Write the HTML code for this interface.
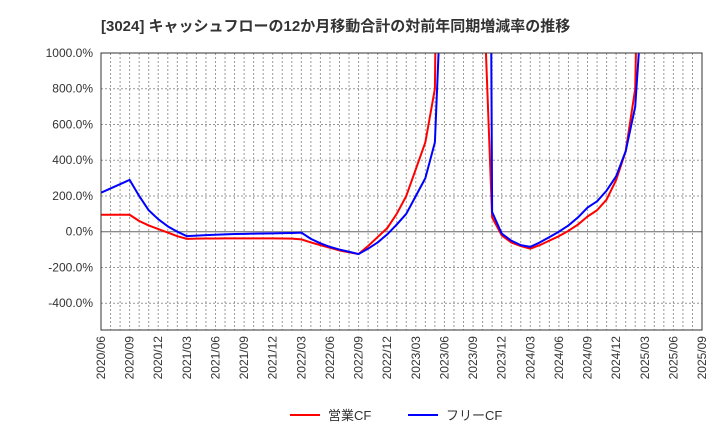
<!DOCTYPE html>
<html><head><meta charset="utf-8"><style>
body{margin:0;background:#fff;}
svg{display:block;font-family:"Liberation Sans","Noto Sans CJK JP",sans-serif;}
</style></head><body>
<svg id="c" width="720" height="440">
<text x="101" y="31" font-size="15" font-weight="bold" fill="#333">[3024]  キャッシュフローの12か月移動合計の対前年同期増減率の推移</text>
<defs><clipPath id="clip"><rect x="101" y="53" width="601" height="277"/></clipPath></defs>
<g id="grid"></g>
<g id="series" clip-path="url(#clip)"></g>
<rect x="101" y="53" width="601" height="277" fill="none" stroke="#333" stroke-width="1"/>
<g id="axes"></g>
<g>
<line x1="290" y1="415" x2="320" y2="415" stroke="#f00" stroke-width="2"/>
<text x="328" y="420" font-size="13" fill="#333">営業CF</text>
<line x1="408" y1="415" x2="438" y2="415" stroke="#00f" stroke-width="2"/>
<text x="446" y="420" font-size="13" fill="#333">フリーCF</text>
</g>
</svg>
<script>
const xTickLabels=["2020/06","2020/09","2020/12","2021/03","2021/06","2021/09","2021/12","2022/03","2022/06","2022/09","2022/12","2023/03","2023/06","2023/09","2023/12","2024/03","2024/06","2024/09","2024/12","2025/03","2025/06","2025/09"];
const yTicks=[-400,-200,0,200,400,600,800,1000];
// monthly values from 2020/06 (index 0)
const operatingCF=[95,95,95,95,60,35,15,-5,-25,-40,-39,-38,-38,-37,-37,-37,-37,-37,-37,-38,-39,-43,-60,-75,-90,-105,-115,-125,-80,-30,20,100,200,350,500,800,5000,null,null,null,1500,80,-20,-60,-80,-95,-75,-50,-25,5,40,85,120,180,290,450,800,3500,null,null,null,null,null,null];
const freeCF=[218,242,266,290,200,120,70,30,0,-25,-22,-19,-17,-15,-13,-12,-11,-10,-9,-8,-7,-5,-40,-65,-85,-100,-112,-125,-95,-60,-15,40,100,200,300,500,1800,null,null,null,10000,110,-10,-50,-75,-85,-60,-30,0,35,80,135,170,230,310,450,700,1500,null,null,null,null,null,null];
const X0=101,X1=702,Y0=330,Y1=53,NM=63,YMIN=-550,YMAX=1000;
const xs=i=>X0+(X1-X0)*i/NM;
const ys=v=>Y0-(Y0-Y1)*(v-YMIN)/(YMAX-YMIN);
const NS="http://www.w3.org/2000/svg";
const grid=document.getElementById('grid'),axes=document.getElementById('axes'),ser=document.getElementById('series');
function mk(tag,attrs,parent){const e=document.createElementNS(NS,tag);for(const k in attrs)e.setAttribute(k,attrs[k]);parent.appendChild(e);return e;}
for(let m=1;m<NM;m++){
  const l=mk('line',{x1:xs(m),x2:xs(m),y1:Y1,y2:Y0,stroke:'#999','stroke-width':1,'stroke-dasharray':'2,2'},grid);
  
  
}
yTicks.forEach(v=>{
  const l=mk('line',{x1:X0,x2:X1,y1:ys(v),y2:ys(v),stroke:v===0?'#666':'#999','stroke-width':1,'stroke-dasharray':v===0?'':'2,2'},grid);
  
  
  const t=mk('text',{x:93,y:ys(v)+4,'font-size':12,fill:'#333','text-anchor':'end'},axes);
  t.textContent=v.toFixed(1)+'%';
  
  
});
xTickLabels.forEach((s,i)=>{
  const x=xs(i*3);
  const t=mk('text',{x:0,y:0,'font-size':12,fill:'#333','text-anchor':'end',transform:`translate(${x+4},336) rotate(-90)`},axes);
  t.textContent=s;
  
  
});
function draw(arr,color,name){
  let d='',pen=false;
  arr.forEach((v,i)=>{if(v===null){pen=false;return;}d+=(pen?'L':'M')+xs(i).toFixed(2)+','+ys(v).toFixed(2);pen=true;});
  const p=mk('path',{d:d,fill:'none',stroke:color,'stroke-width':2,'stroke-linejoin':'round'},ser);
  
  
}
draw(operatingCF,'#f00','operating-cf-line');
draw(freeCF,'#00f','free-cf-line');
</script>
</body></html>
